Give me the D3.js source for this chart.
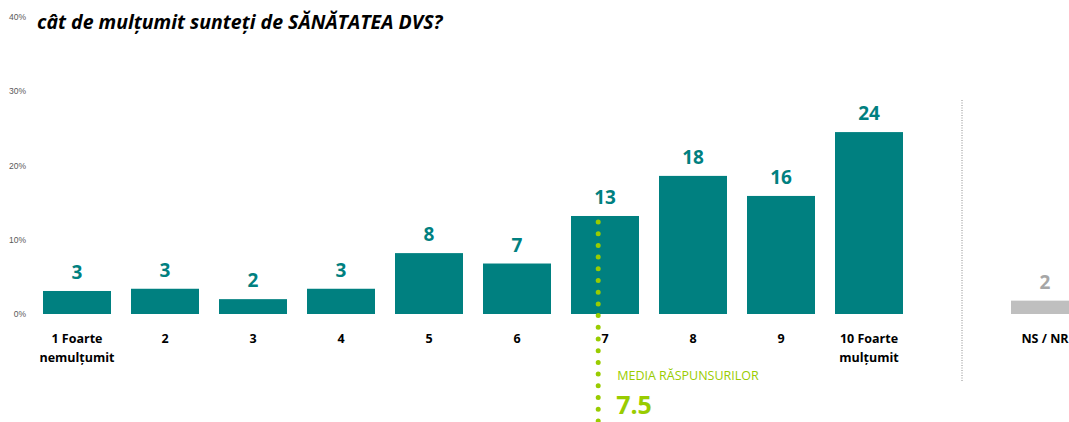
<!DOCTYPE html>
<html>
<head>
<meta charset="utf-8">
<script src="https://cdn.jsdelivr.net/npm/d3@7"></script>
<style>
  body { margin: 0; background: #fff; }
  svg { display: block; }
</style>
</head>
<body>
<svg id="chart" width="1069" height="422"></svg>
<script>
// categories (score 1..10, an empty slot, then NS / NR)
let categories = ['1', '2', '3', '4', '5', '6', '7', '8', '9', '10', 'gap', 'NS'];
let catLabels = [['1 Foarte', 'nemulțumit'], ['2'], ['3'], ['4'], ['5'], ['6'], ['7'], ['8'], ['9'], ['10 Foarte', 'mulțumit'], [], ['NS / NR']];
// bar heights (%)
let values = [3.1, 3.4, 2.0, 3.4, 8.2, 6.8, 13.2, 18.6, 15.9, 24.5, null, 1.8];
// numbers printed above the bars
let valueLabels = ['3', '3', '2', '3', '8', '7', '13', '18', '16', '24', '', '2'];
let yTicks = [0, 10, 20, 30, 40];
let meanScore = '7.5';
let meanTitle = 'MEDIA RĂSPUNSURILOR';
let title = 'cât de mulțumit sunteți de SĂNĂTATEA DVS?';

let teal = '#008080';
let grey = '#bfbfbf';
let green = '#99cc00';

let svg = d3.select('#chart');
let font = '"Open Sans", sans-serif';

// scales
let x = d3.scaleBand()
  .domain(categories)
  .range([33, 33 + 12 * 88])
  .paddingInner(20 / 88)
  .paddingOuter(10 / 88);

let y = d3.scaleLinear()
  .domain([0, 40])
  .range([314, 17]);

// y axis labels (no line, no ticks)
let yAxis = d3.axisLeft(y)
  .tickValues(yTicks)
  .tickFormat(d => d + '%')
  .tickSize(0)
  .tickPadding(0);

let gy = svg.append('g')
  .attr('transform', 'translate(26,0)')
  .call(yAxis);
gy.select('.domain').remove();
gy.selectAll('text')
  .attr('font-family', 'Arial, "Liberation Sans", sans-serif')
  .attr('font-size', 8.5)
  .attr('fill', '#595959');

// title
svg.append('text')
  .attr('x', 37)
  .attr('y', 29)
  .attr('font-family', font)
  .attr('font-size', 19.5)
  .attr('font-weight', 'bold')
  .attr('font-style', 'italic')
  .attr('fill', '#000')
  .text(title);

let data = categories.map((c, i) => ({cat: c, value: values[i], label: valueLabels[i], lines: catLabels[i]}));

// bars
svg.append('g').selectAll('rect')
  .data(data.filter(d => d.value != null))
  .join('rect')
  .attr('x', d => x(d.cat))
  .attr('y', d => y(d.value))
  .attr('width', x.bandwidth())
  .attr('height', d => y(0) - y(d.value))
  .attr('fill', d => d.cat === 'NS' ? grey : teal);

// value labels
svg.append('g').selectAll('text')
  .data(data.filter(d => d.value != null))
  .join('text')
  .attr('x', d => x(d.cat) + x.bandwidth() / 2)
  .attr('y', d => y(d.value) - 12)
  .attr('text-anchor', 'middle')
  .attr('font-family', font)
  .attr('font-size', 19)
  .attr('font-weight', 'bold')
  .attr('fill', d => d.cat === 'NS' ? '#a6a6a6' : teal)
  .text(d => d.label);

// category labels
let catG = svg.append('g').selectAll('text')
  .data(data)
  .join('text')
  .attr('text-anchor', 'middle')
  .attr('font-family', font)
  .attr('font-size', 12.5)
  .attr('font-weight', 'bold')
  .attr('fill', '#000');

catG.selectAll('tspan')
  .data(d => d.lines.map(l => ({l: l, cx: x(d.cat) + x.bandwidth() / 2})))
  .join('tspan')
  .attr('x', d => d.cx)
  .attr('y', (d, i) => 343 + i * 19)
  .text(d => d.l);

// dotted separator before NS / NR
let sepX = x('gap') + x.bandwidth() / 2 + 5;
svg.append('line')
  .attr('x1', sepX).attr('x2', sepX)
  .attr('y1', 100).attr('y2', 382)
  .attr('stroke', '#8c8c8c')
  .attr('stroke-width', 1)
  .attr('stroke-dasharray', '1,1.5');

// mean line (green round dots)
let meanX = x('7') + x.bandwidth() * 0.4;
svg.append('line')
  .attr('x1', meanX).attr('x2', meanX)
  .attr('y1', 222).attr('y2', 430)
  .attr('stroke', green)
  .attr('stroke-width', 5)
  .attr('stroke-linecap', 'round')
  .attr('stroke-dasharray', '0,11.7');

svg.append('text')
  .attr('x', meanX + 19)
  .attr('y', 380)
  .attr('font-family', font)
  .attr('font-size', 12.5)
  .attr('fill', '#99cc00')
  .text(meanTitle);

svg.append('text')
  .attr('x', meanX + 18)
  .attr('y', 414)
  .attr('font-family', font)
  .attr('font-size', 25)
  .attr('font-weight', 'bold')
  .attr('fill', '#99cc00')
  .text(meanScore);
</script>
</body>
</html>
